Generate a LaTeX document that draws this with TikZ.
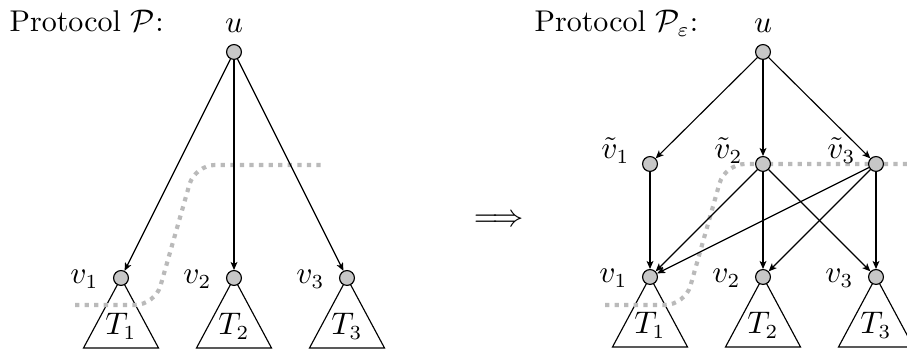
\documentclass[tikz,border=0pt]{standalone}
\usetikzlibrary{backgrounds,arrows.meta}
\begin{document}
\begin{tikzpicture}[x=0.35pt,y=-0.35pt,
  font=\fontsize{10.5}{12.6}\selectfont,
  vert/.style={circle,draw,fill=black!22,minimum size=5.2pt,inner sep=0pt,line width=0.4pt},
  vlab/.style={inner sep=0pt,anchor=base east},
  ulab/.style={inner sep=0pt,anchor=base},
  ttext/.style={inner sep=0pt,anchor=base},
  cutline/.style={draw=black!27,line width=1.45pt,dash pattern=on 1.5pt off 1.85pt,rounded corners=7pt},
  edge/.style={-{Stealth[length=2.8pt,width=2.4pt,inset=0.7pt]},line width=0.4pt},
  tri/.style={draw,line width=0.4pt}]
\clip (0,0) rectangle (907,350);

% ---- left: protocol P
\node[inner sep=0pt,anchor=base west] (titleL) at (9,32) {Protocol $\mathcal{P}$:};
\node[vert] (uL) at (234,52) {};
\node[vert] (v1L) at (121,278) {};
\node[vert] (v2L) at (234,278) {};
\node[vert] (v3L) at (347,278) {};
\node[ulab] (luL) at ([shift={(0,-19)}]uL.center) {$u$};
\node[vlab] (lv1L) at ([shift={(-22,6)}]v1L.center) {$v_1$};
\node[vlab] (lv2L) at ([shift={(-22,6)}]v2L.center) {$v_2$};
\node[vlab] (lv3L) at ([shift={(-22,6)}]v3L.center) {$v_3$};
\node[ttext] (t1L) at ([shift={(0,57)}]v1L.center) {$T_1$};
\node[ttext] (t2L) at ([shift={(0,57)}]v2L.center) {$T_2$};
\node[ttext] (t3L) at ([shift={(0,57)}]v3L.center) {$T_3$};

\draw[edge] (uL) -- (v1L);
\draw[edge] (uL) -- (v2L);
\draw[edge] (uL) -- (v3L);

% ---- implies
\node (impl) at (499,221) {$\Longrightarrow$};

% ---- right: protocol P_eps
\node[inner sep=0pt,anchor=base west] (titleR) at (534,32) {Protocol $\mathcal{P}_{\varepsilon}$:};
\node[vert] (uR) at (763,52) {};
\node[vert] (w1R) at (650,164) {};
\node[vert] (w2R) at (763,164) {};
\node[vert] (w3R) at (876,164) {};
\node[vert] (v1R) at (650,277) {};
\node[vert] (v2R) at (763,277) {};
\node[vert] (v3R) at (876,277) {};
\node[ulab] (luR) at ([shift={(0,-19)}]uR.center) {$u$};
\node[vlab] (lw1R) at ([shift={(-20,-5)}]w1R.center) {$\tilde v_1$};
\node[vlab] (lw2R) at ([shift={(-20,-5)}]w2R.center) {$\tilde v_2$};
\node[vlab] (lw3R) at ([shift={(-20,-5)}]w3R.center) {$\tilde v_3$};
\node[vlab] (lv1R) at ([shift={(-22,6)}]v1R.center) {$v_1$};
\node[vlab] (lv2R) at ([shift={(-22,6)}]v2R.center) {$v_2$};
\node[vlab] (lv3R) at ([shift={(-22,6)}]v3R.center) {$v_3$};
\node[ttext] (t1R) at ([shift={(0,57)}]v1R.center) {$T_1$};
\node[ttext] (t2R) at ([shift={(0,57)}]v2R.center) {$T_2$};
\node[ttext] (t3R) at ([shift={(0,57)}]v3R.center) {$T_3$};

\draw[edge] (uR) -- (w1R);
\draw[edge] (uR) -- (w2R);
\draw[edge] (uR) -- (w3R);
\draw[edge] (w1R) -- (v1R);
\draw[edge] (w2R) -- (v1R);
\draw[edge] (w2R) -- (v2R);
\draw[edge] (w2R) -- (v3R);
\draw[edge] (w3R) -- (v1R);
\draw[edge] (w3R) -- (v2R);
\draw[edge] (w3R) -- (v3R);

\begin{scope}[on background layer]
  \foreach \n in {v1L,v2L,v3L,v1R,v2R,v3R}{
    \draw[tri] (\n.center) -- ++(-37.5,70) -- ++(75,0) -- cycle;
  }
  \draw[cutline] (75,305) -- (155,305) -- (195,165) -- (325,165);
  \draw[cutline] (605,305) -- (685,305) -- (725,164) -- (930,164);
\end{scope}
\end{tikzpicture}
\end{document}
